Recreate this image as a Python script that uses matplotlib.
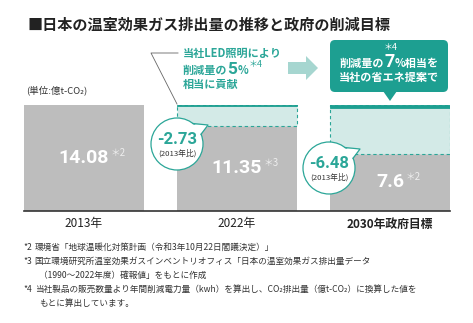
import matplotlib
matplotlib.use("Agg")
import numpy as np
import matplotlib.pyplot as plt
from matplotlib.patches import Circle, Polygon, FancyBboxPatch

JP = ["Noto Sans CJK JP", "DejaVu Sans"]
NUM = ["Roboto", "Noto Sans CJK JP"]
plt.rcParams["font.family"] = JP

# 温室効果ガス排出量（億t-CO2）
years = ["2013年", "2022年", "2030年政府目標"]
emissions = [14.08, 11.35, 7.6]
sources = ["＊2", "＊3", "＊2"]
led_share = [5, 7]          # 削減量に占める当社の寄与（%）
footnotes = [
    ("*2", ["環境省「地球温暖化対策計画（令和3年10月22日閣議決定）」"]),
    ("*3", ["国立環境研究所温室効果ガスインベントリオフィス「日本の温室効果ガス排出量データ",
            "（1990〜2022年度）確報値」をもとに作成"]),
    ("*4", ["当社製品の販売数量より年間削減電力量（kwh）を算出し、CO₂排出量（億t-CO₂）に換算した値を",
            "もとに算出しています。"]),
]

GRAY = "#bdbdbd"
PALE = "#d3eae7"
TEAL = "#1d9f91"
TEAL_TXT = "#2ba698"
ARROW = "#a6d6d0"
INK = "#222222"

W, H = 473, 323
fig = plt.figure(figsize=(W / 100, H / 100), dpi=100)

# --- bars ---
ax = fig.add_axes([24 / W, 112 / H, 426 / W, 106 / H])
x = np.arange(len(years))
bw = 120 / 153
ax.set_xlim(-bw / 2, x[-1] + bw / 2)
ax.set_ylim(0, emissions[0])
ax.axis("off")

reduction = [emissions[0] - e for e in emissions[1:]]
strip = [s / 100 * r for s, r in zip(led_share, reduction)]

ax.bar(x, emissions, width=bw, color=GRAY, zorder=1)
ax.bar(x[1:], reduction, bottom=emissions[1:], width=bw, color=PALE,
       edgecolor=TEAL_TXT, linewidth=0.8, linestyle=(0, (3, 2.5)), zorder=1)
ax.bar(x[1:], strip, bottom=[emissions[0] - s for s in strip], width=bw,
       color=TEAL, edgecolor=TEAL, linewidth=0.6, zorder=2)
ax.axhline(0, color="#333333", lw=1.2, clip_on=False, zorder=3)

r = fig.canvas.get_renderer()
for i, (v, src) in enumerate(zip(emissions, sources)):
    t = ax.text(i, v / 2, f"{v:g}", ha="center", va="center", color="white",
                fontsize=14, fontweight="bold", family=NUM, zorder=4)
    ax.annotate(src, xy=(1, 1), xycoords=t, xytext=(1, 1), textcoords="offset points",
                ha="left", va="top", color="#eeeeee", fontsize=7, zorder=4)
    ax.annotate(years[i], xy=(i, 0), xytext=(0, -13), textcoords="offset pixels",
                ha="center", va="center", color=INK, fontsize=8.5,
                fontweight="bold" if i == len(years) - 1 else "normal")

# --- overlay in pixel coordinates ---
ov = fig.add_axes([0, 0, 1, 1], zorder=5)
ov.set_xlim(0, W)
ov.set_ylim(H, 0)
ov.axis("off")
ov.patch.set_alpha(0)


def run(x0, y, pieces, center=False):
    arts, cx = [], x0
    for s, size, dy, kw in pieces:
        t = ov.text(cx, y + dy, s, fontsize=size, ha="left", va="baseline", **kw)
        cx += t.get_window_extent(r).width
        arts.append(t)
    if center:
        shift = (cx - x0) / 2
        for t in arts:
            t.set_x(t.get_position()[0] - shift)
    return arts


ov.text(27, 25, "■日本の温室効果ガス排出量の推移と政府の削減目標", fontsize=10.9,
        fontweight="bold", color=INK, va="center", ha="left")
ov.text(26, 90, "(単位:億t-CO₂)", fontsize=6.8, color="#333333", va="center", ha="left")

# callouts: reduction vs 2013
def callout(cx, cy, value):
    rad = 26
    ov.add_patch(Circle((cx, cy), rad, fc="white", ec=TEAL_TXT, lw=0.9, zorder=5))
    a = np.radians([22, 52])
    tip = (cx + 31, cy - 19)
    outer = [(cx + rad * np.cos(t), cy - rad * np.sin(t)) for t in a]
    inner = [(cx + (rad - 1.5) * np.cos(t), cy - (rad - 1.5) * np.sin(t)) for t in a]
    ov.add_patch(Polygon([inner[0], tip, inner[1]], fc="white", ec="none", zorder=6))
    ov.plot([outer[0][0], tip[0], outer[1][0]], [outer[0][1], tip[1], outer[1][1]],
            color=TEAL_TXT, lw=0.9, zorder=7)
    ov.text(cx, cy - 5, f"-{value:.2f}", ha="center", va="center", color=TEAL_TXT,
            fontsize=12, fontweight="bold", family=NUM, zorder=8)
    ov.text(cx, cy + 9.5, "(2013年比)", ha="center", va="center", color="#333333",
            fontsize=5.6, zorder=8)


callout(177, 144, reduction[0])
callout(329, 168, reduction[1])

# LED contribution note
ov.plot([178, 151, 177], [53, 53, 104], color="#666666", lw=0.6)
tk = dict(color=TEAL_TXT, fontweight="bold")
run(183, 57, [("当社LED照明により", 8, 0, tk)])
run(183, 74, [("削減量の", 8, 0, tk), ("5", 12.5, 0, dict(tk, family=NUM)),
              ("%", 8, 0, tk), ("＊4", 6.5, -7, dict(color=TEAL_TXT))])
run(183, 88, [("相当に貢献", 8, 0, tk)])

ov.add_patch(Polygon([(288, 62), (306, 62), (306, 56), (318, 68), (306, 80),
                      (306, 74), (288, 74)], fc=ARROW, ec="none"))

# target box
ov.add_patch(FancyBboxPatch((330, 40), 118, 52, boxstyle="round,pad=0,rounding_size=5",
                            fc=TEAL, ec="none"))
ov.add_patch(Polygon([(383, 91), (397, 91), (390, 101)], fc=TEAL, ec="none"))
wk = dict(color="white", fontweight="bold")
arts = run(389, 67, [("削減量の", 8, 0, wk), ("7", 13, 0, dict(wk, family=NUM)),
                     ("%相当を", 8, 0, wk)], center=True)
seven = arts[1]
ov.annotate("＊4", xy=(0.5, 1), xycoords=seven, xytext=(1, 1), textcoords="offset points",
            ha="center", va="bottom", color="white", fontsize=6.5)
run(389, 81, [("当社の省エネ提案で", 8, 0, wk)], center=True)

# footnotes
y = 247
for mark, lines in footnotes:
    m = ov.text(23, y, mark, fontsize=6.2, color="#333333", va="center", ha="left")
    x_text = 23 + m.get_window_extent(r).width + 3
    for k, line in enumerate(lines):
        ov.text(x_text if k == 0 else x_text + 4, y, line, fontsize=6.2, color="#333333",
                va="center", ha="left")
        y += 14

fig.savefig("out.png", dpi=100)
